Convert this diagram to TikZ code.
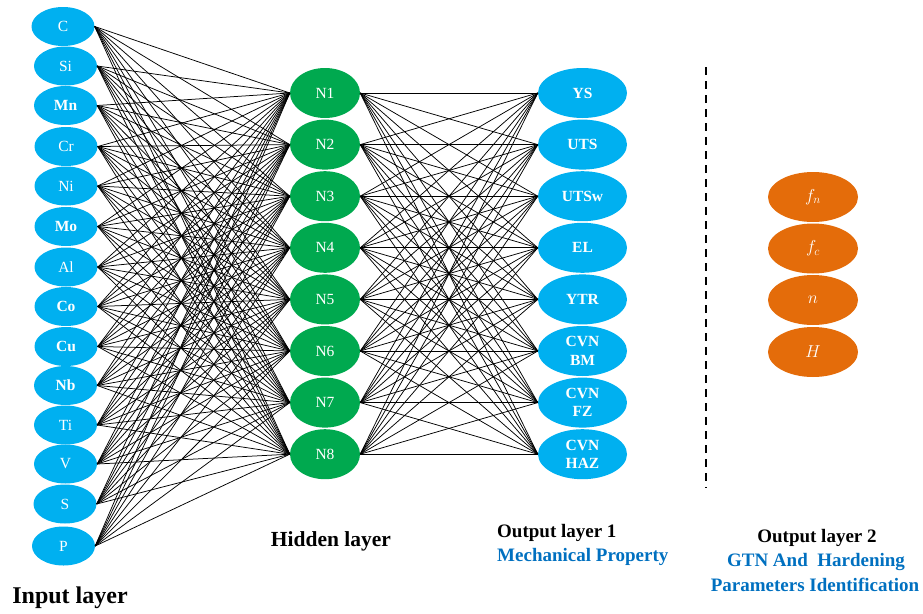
\documentclass[tikz,border=0pt]{standalone}
\usepackage{fontspec}
\setmainfont{Liberation Serif}
\usetikzlibrary{shapes.geometric}
\definecolor{inblue}{HTML}{00B0F0}
\definecolor{hidgreen}{HTML}{00A94F}
\definecolor{outorange}{HTML}{E46C0A}
\definecolor{capblue}{HTML}{0070C0}
\begin{document}
\begin{tikzpicture}[x=1pt,y=-1pt,
  neuron/.style={ellipse,inner sep=0pt,text=white,
    font=\fontsize{15.5}{18}\selectfont},
  inneuron/.style={neuron,fill=inblue,minimum width=63,minimum height=39},
  hidneuron/.style={neuron,fill=hidgreen,minimum width=70,minimum height=50},
  outneuron/.style={neuron,fill=inblue,minimum width=89,minimum height=50,
    font=\fontsize{15.5}{18.5}\selectfont\bfseries,align=center},
  parneuron/.style={neuron,fill=outorange,minimum width=90,minimum height=50,
    font=\fontsize{18}{20}\selectfont},
  link/.style={black,line width=0.75pt},
  layertitle/.style={font=\fontsize{19}{22}\selectfont\bfseries},
  caption/.style={font=\fontsize{19}{24}\selectfont\bfseries,text=capblue}]
\useasboundingbox (0,0) rectangle (923,613);

% input layer
\foreach \name/\lab/\xx/\yy in {
  C/{C}/63/26.5, Si/{Si}/65.5/66, Mn/{\bfseries Mn}/65.5/105.5,
  Cr/{Cr}/66/146.5, Ni/{Ni}/66/186, Mo/{\bfseries Mo}/66/226.5,
  Al/{Al}/66/267, Co/{\bfseries Co}/66/306.5, Cu/{\bfseries Cu}/66/346.5,
  Nb/{\bfseries Nb}/65.5/385.5, Ti/{Ti}/65.5/425, V/{V}/65.5/464,
  S/{S}/65/504, P/{P}/63.5/546}
  \node[inneuron] (\name) at (\xx,\yy) {\lab};

% hidden layer
\foreach \i in {1,...,8}
  \node[hidneuron] (N\i) at (325,{93+51.6*(\i-1)}) {N\i};

% output layer 1
\foreach \name/\lab [count=\i] in {
  YS/YS, UTS/UTS, UTSw/UTSw, EL/EL, YTR/YTR,
  BM/{CVN\\BM}, FZ/{CVN\\FZ}, HAZ/{CVN\\HAZ}}
  \node[outneuron] (\name) at (582.5,{93+51.6*(\i-1)}) {\lab};

% output layer 2
\node[parneuron] (fn) at (813,197) {$f_n$};
\node[parneuron] (fc) at (813,248.5) {$f_c$};
\node[parneuron] (nn) at (813,300) {$n$};
\node[parneuron] (HH) at (813,352) {$H$};

% full connections
\foreach \a in {C,Si,Mn,Cr,Ni,Mo,Al,Co,Cu,Nb,Ti,V,S,P}
  \foreach \b in {1,...,8}
    \draw[link] (\a.east) -- (N\b.west);
\foreach \a in {1,...,8}
  \foreach \b in {YS,UTS,UTSw,EL,YTR,BM,FZ,HAZ}
    \draw[link] (N\a.east) -- (\b.west);

% separator
\coordinate (sepTop) at (706,67);
\coordinate (sepBot) at (706,488);
\draw[line width=1.6pt,dash pattern=on 8pt off 6pt] (sepTop) -- (sepBot);

% titles
\node[layertitle,font=\fontsize{24}{28}\selectfont\bfseries] (tIn) at (70,598) {Input layer};
\node[layertitle,font=\fontsize{21.5}{26}\selectfont\bfseries] (tHid) at (331,541) {Hidden layer};
\node[layertitle,anchor=west,inner sep=0pt] (tOut1) at (497,533) {Output layer 1};
\node[caption,anchor=west,inner sep=0pt] (cOut1) at (497,557) {Mechanical Property};
\node[layertitle] (tOut2) at (817,538) {Output layer 2};
\node[caption] (cOut2a) at (816,562) {GTN And\ \ Hardening};
\node[caption] (cOut2b) at (815,585) {Parameters Identification};
\end{tikzpicture}
\end{document}
